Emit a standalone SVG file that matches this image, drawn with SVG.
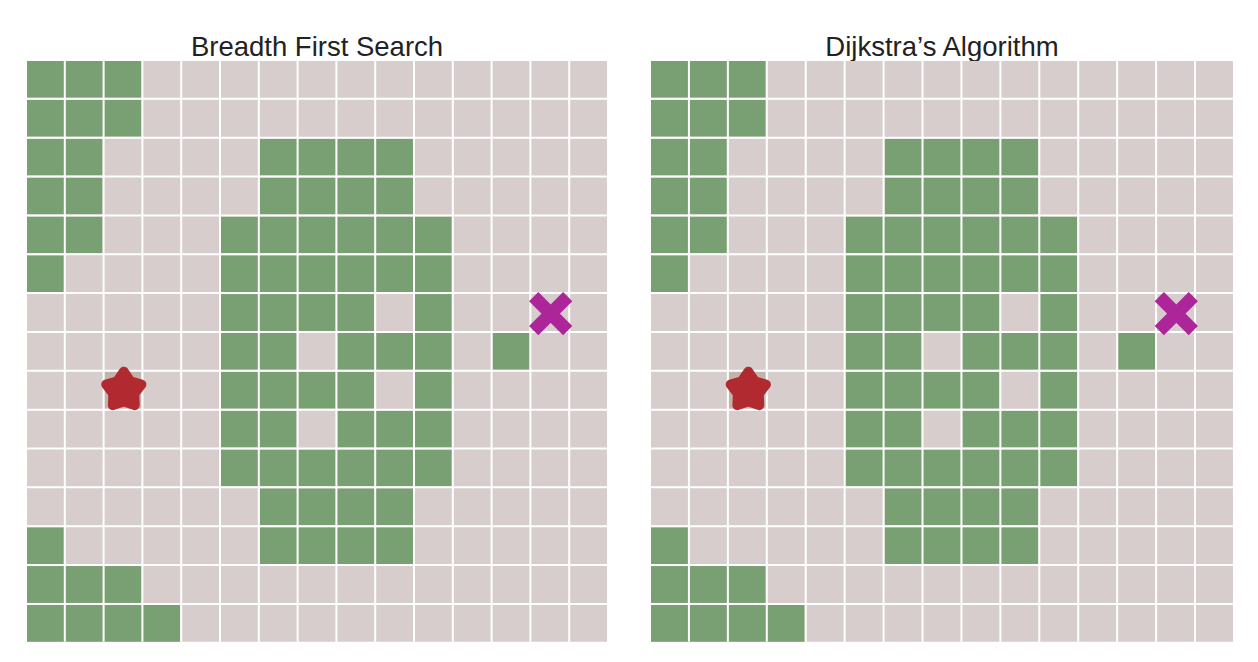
<svg xmlns="http://www.w3.org/2000/svg" xmlns:xlink="http://www.w3.org/1999/xlink" width="1258" height="662" viewBox="0 0 1258 662">
  <style>
    .title { font-family: "Liberation Sans", Arial, sans-serif; font-size: 27.5px; fill: #222222; text-anchor: middle; }
    .bg { fill: #d6cdcc; }
    .g { fill: #79a072; }
    .start-cell { fill: #c2b4aa; }
    .lines { stroke: #ffffff; stroke-width: 2; fill: none; }
    .star { fill: #b12a30; stroke: #b12a30; stroke-width: 10; stroke-linejoin: round; }
    .goal { stroke: #ac2599; stroke-width: 13; stroke-linecap: butt; fill: none; }
  </style>
  <defs>
    <g id="grid">
      <rect class="bg" x="0" y="0" width="14.9485" height="14.9485"/>
      <rect class="start-cell" x="2" y="8" width="0.9485" height="0.9485"/>
      <!-- explored cells, as horizontal runs (separated by white grid lines) -->
      <rect class="g" x="0" y="0" width="2.9485" height="0.9485"/>
      <rect class="g" x="0" y="1" width="2.9485" height="0.9485"/>
      <rect class="g" x="0" y="2" width="1.9485" height="0.9485"/>
      <rect class="g" x="6" y="2" width="3.9485" height="0.9485"/>
      <rect class="g" x="0" y="3" width="1.9485" height="0.9485"/>
      <rect class="g" x="6" y="3" width="3.9485" height="0.9485"/>
      <rect class="g" x="0" y="4" width="1.9485" height="0.9485"/>
      <rect class="g" x="5" y="4" width="5.9485" height="0.9485"/>
      <rect class="g" x="0" y="5" width="0.9485" height="0.9485"/>
      <rect class="g" x="5" y="5" width="5.9485" height="0.9485"/>
      <rect class="g" x="5" y="6" width="3.9485" height="0.9485"/>
      <rect class="g" x="10" y="6" width="0.9485" height="0.9485"/>
      <rect class="g" x="5" y="7" width="1.9485" height="0.9485"/>
      <rect class="g" x="8" y="7" width="2.9485" height="0.9485"/>
      <rect class="g" x="12" y="7" width="0.9485" height="0.9485"/>
      <rect class="g" x="5" y="8" width="3.9485" height="0.9485"/>
      <rect class="g" x="10" y="8" width="0.9485" height="0.9485"/>
      <rect class="g" x="5" y="9" width="1.9485" height="0.9485"/>
      <rect class="g" x="8" y="9" width="2.9485" height="0.9485"/>
      <rect class="g" x="5" y="10" width="5.9485" height="0.9485"/>
      <rect class="g" x="6" y="11" width="3.9485" height="0.9485"/>
      <rect class="g" x="0" y="12" width="0.9485" height="0.9485"/>
      <rect class="g" x="6" y="12" width="3.9485" height="0.9485"/>
      <rect class="g" x="0" y="13" width="2.9485" height="0.9485"/>
      <rect class="g" x="0" y="14" width="3.9485" height="0.9485"/>
      <path class="lines" vector-effect="non-scaling-stroke" d="M0.97425 0V14.9485M1.97425 0V14.9485M2.97425 0V14.9485M3.97425 0V14.9485M4.97425 0V14.9485M5.97425 0V14.9485M6.97425 0V14.9485M7.97425 0V14.9485M8.97425 0V14.9485M9.97425 0V14.9485M10.97425 0V14.9485M11.97425 0V14.9485M12.97425 0V14.9485M13.97425 0V14.9485M0 0.97425H14.9485M0 1.97425H14.9485M0 2.97425H14.9485M0 3.97425H14.9485M0 4.97425H14.9485M0 5.97425H14.9485M0 6.97425H14.9485M0 7.97425H14.9485M0 8.97425H14.9485M0 9.97425H14.9485M0 10.97425H14.9485M0 11.97425H14.9485M0 12.97425H14.9485M0 13.97425H14.9485"/>
    </g>
    <polygon id="starShape" class="star" points="0,-18.5 6.47,-8.9 17.59,-5.72 10.46,3.4 10.87,14.97 0,11 -10.87,14.97 -10.46,3.4 -17.59,-5.72 -6.47,-8.9"/>
    <path id="xShape" class="goal" d="M-17,-17L17,17M17,-17L-17,17"/>
  </defs>

  <g id="bfs-panel">
    <text id="bfs-title" class="title" x="317" y="56">Breadth First Search</text>
    <use id="bfs-grid" xlink:href="#grid" href="#grid" transform="translate(27,61) scale(38.8,38.85)"/>
    <use id="bfs-start" xlink:href="#starShape" href="#starShape" transform="translate(123.8,390.2)"/>
    <use id="bfs-goal" xlink:href="#xShape" href="#xShape" transform="translate(550.7,313.7)"/>
  </g>

  <g id="dijkstra-panel">
    <text id="dijkstra-title" class="title" x="942" y="56">Dijkstra’s Algorithm</text>
    <use id="dijkstra-grid" xlink:href="#grid" href="#grid" transform="translate(651,61) scale(38.93,38.85)"/>
    <use id="dijkstra-start" xlink:href="#starShape" href="#starShape" transform="translate(748.3,390.2)"/>
    <use id="dijkstra-goal" xlink:href="#xShape" href="#xShape" transform="translate(1176.3,313.7)"/>
  </g>

  <g id="connectors"></g>
</svg>
